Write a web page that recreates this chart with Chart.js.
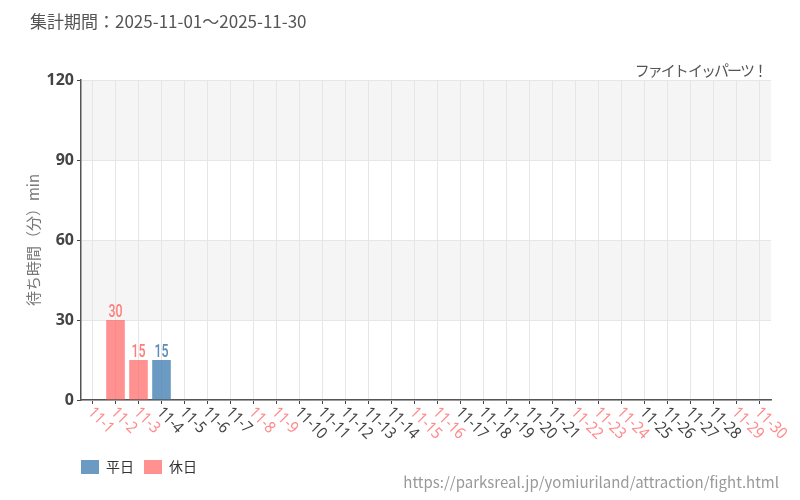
<!DOCTYPE html>
<html>
<head>
<meta charset="utf-8">
<script src="https://cdn.jsdelivr.net/npm/chart.js@4"></script>
<style>
    html, body { margin: 0; padding: 0; background: #fff; }
    #wrap { width: 800px; height: 500px; }
</style>
</head>
<body>
<div id="wrap"><canvas id="myChart" width="800" height="500"></canvas></div>
<script>
var days = [];
for (var d = 1; d <= 30; d++) days.push("11-" + d);

// weekend + holiday (11-3, 11-24)
var holidayDays = ["11-1", "11-2", "11-3", "11-8", "11-9", "11-15", "11-16", "11-22", "11-23", "11-24", "11-29", "11-30"];

var weekdayValues = [null, null, null, 15, null, null, null, null, null, null, null, null, null, null, null,
    null, null, null, null, null, null, null, null, null, null, null, null, null, null, null];
var holidayValues = [null, 30, 15, null, null, null, null, null, null, null, null, null, null, null, null,
    null, null, null, null, null, null, null, null, null, null, null, null, null, null, null];

var yTicks = [0, 30, 60, 90, 120];

var fontJP = '"Noto Sans CJK JP", "Noto Sans", sans-serif';
var blueBar = "rgba(70,130,180,0.8)";
var pinkBar = "rgba(255,99,99,0.7)";

var pagePlugin = {
    id: "pagePlugin",
    beforeDraw: function (chart) {
        var ctx = chart.ctx;
        var area = chart.chartArea;
        var y = chart.scales.y;
        ctx.save();
        ctx.fillStyle = "#f5f5f5";
        // shaded bands 30-60 and 90-120
        [[30, 60], [90, 120]].forEach(function (b) {
            var top = y.getPixelForValue(b[1]);
            var bot = y.getPixelForValue(b[0]);
            ctx.fillRect(area.left, top, area.right - area.left, bot - top);
        });
        ctx.restore();
    },
    afterLayout: function (chart) {
        chart.legend.left -= 10;
        chart.legend.right -= 10;
    },
    afterDatasetsDraw: function (chart) {
        var ctx = chart.ctx;
        ctx.save();
        ctx.font = '500 19px "Roboto", "Noto Sans", sans-serif';
        ctx.textAlign = "center";
        ctx.textBaseline = "alphabetic";
        chart.data.datasets.forEach(function (ds, di) {
            var meta = chart.getDatasetMeta(di);
            meta.data.forEach(function (bar, i) {
                if (ds.data[i] == null) return;
                // squeeze horizontally to look condensed
                ctx.save();
                ctx.translate(bar.x, bar.y - 3);
                ctx.scale(0.65, 1);
                ctx.fillStyle = di === 0 ? "#5a8cb8" : "#ff7c7c";
                ctx.fillText(ds.data[i], 0, 0);
                ctx.restore();
            });
        });
        ctx.restore();
    },
    afterDraw: function (chart) {
        var ctx = chart.ctx;
        var x = chart.scales.x;
        var bottom = chart.chartArea.bottom;
        ctx.save();

        // x labels, rotated clockwise
        ctx.font = '16px "Noto Sans", sans-serif';
        ctx.textAlign = "left";
        ctx.textBaseline = "middle";
        days.forEach(function (lab, i) {
            var px = x.getPixelForTick(i);
            ctx.save();
            ctx.translate(px - 2, bottom + 10);
            ctx.rotate(Math.PI / 4);
            ctx.scale(0.9, 1);
            ctx.fillStyle = holidayDays.indexOf(lab) >= 0 ? "#ff8a8a" : "#444";
            ctx.fillText(lab, 0, 0);
            ctx.restore();
        });

        // header + footer texts
        ctx.font = "17px " + fontJP;
        ctx.fillStyle = "#555";
        ctx.textAlign = "left";
        ctx.textBaseline = "middle";
        ctx.fillText("集計期間：2025-11-01～2025-11-30", 30, 22);

        ctx.font = "15px " + fontJP;
        ctx.textAlign = "right";
        ctx.letterSpacing = "-2px";
        ctx.fillText("ファイト イッパーツ！", 766, 70);
        ctx.letterSpacing = "0px";

        ctx.font = "15px " + fontJP;
        ctx.fillStyle = "#999";
        ctx.fillText("https://parksreal.jp/yomiuriland/attraction/fight.html", 779, 482);
        ctx.restore();
    }
};

new Chart("myChart", {
    type: "bar",
    data: {
        labels: days,
        datasets: [{
            label: "平日",
            data: weekdayValues,
            backgroundColor: blueBar,
            categoryPercentage: 0.9,
            barPercentage: 0.9
        }, {
            label: "休日",
            data: holidayValues,
            backgroundColor: pinkBar,
            categoryPercentage: 0.9,
            barPercentage: 0.9
        }]
    },
    options: {
        responsive: false,
        animation: false,
        layout: {
            padding: { top: 80, left: 20, right: 29, bottom: 16 }
        },
        plugins: {
            title: { display: false },
            tooltip: { enabled: false },
            legend: {
                position: "bottom",
                align: "start",
                fullSize: false,
                labels: {
                    boxWidth: 18,
                    boxHeight: 14,
                    padding: 10,
                    color: "#333",
                    font: { size: 14, family: fontJP }
                }
            }
        },
        scales: {
            x: {
                stacked: true,
                afterFit: function (scale) { scale.height = 50; },
                grid: {
                    offset: false,
                    color: "#e6e6e6",
                    tickColor: "#444",
                    tickLength: 4
                },
                border: { color: "#555", width: 1.5 },
                ticks: { display: false }
            },
            y: {
                stacked: false,
                min: 0,
                max: 120,
                afterFit: function (scale) { scale.width = 61; },
                afterBuildTicks: function (scale) {
                    scale.ticks = yTicks.map(function (v) { return { value: v }; });
                },
                grid: {
                    color: "#e6e6e6",
                    tickColor: "#444",
                    tickLength: 4
                },
                border: { color: "#555", width: 1.5 },
                ticks: {
                    color: "#444",
                    padding: 3,
                    font: { size: 16, weight: "bold", family: '"Noto Sans", sans-serif' }
                },
                title: {
                    display: true,
                    text: "待ち時間（分）min",
                    color: "#777",
                    padding: { top: 4, bottom: 4 },
                    font: { size: 15, family: fontJP }
                }
            }
        }
    },
    plugins: [pagePlugin]
});
</script>
</body>
</html>
